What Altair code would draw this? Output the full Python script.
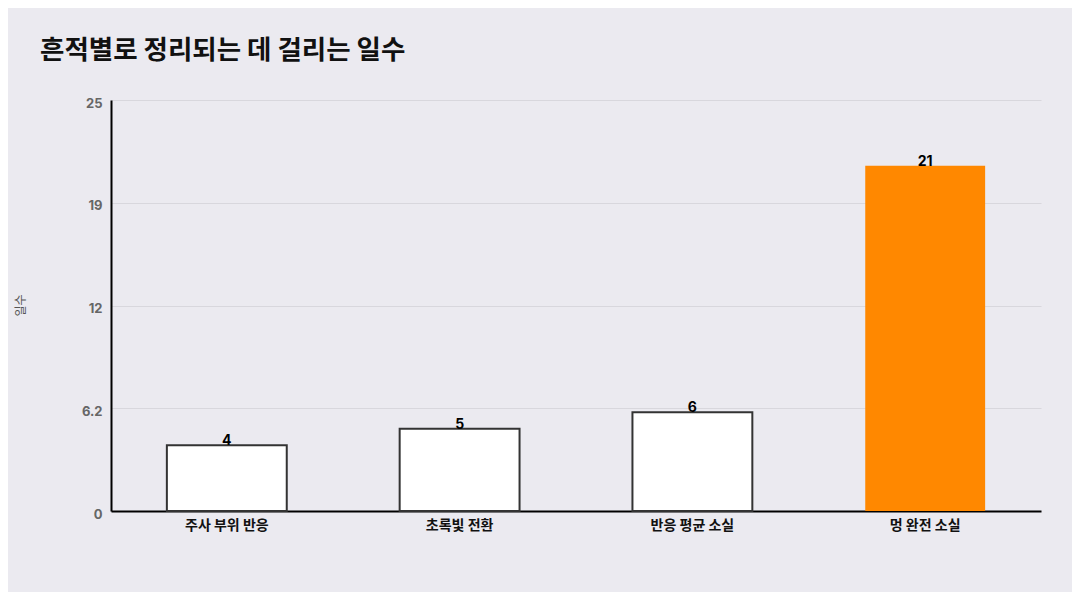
import altair as alt
import pandas as pd

categories = ["주사 부위 반응", "초록빛 전환", "반응 평균 소실", "멍 완전 소실"]
days = [4, 5, 6, 21]
highlight = "멍 완전 소실"
y_ticks = [0, 6.25, 12.5, 18.75, 25]
y_tick_labels = ["0", "6.2", "12", "19", "25"]

df = pd.DataFrame({"category": categories, "days": days})

FONT = "Noto Sans CJK KR"
NUM_FONT = "Inter"

label_expr = " : ".join(
    f"datum.value == {v} ? '{t}'" for v, t in zip(y_ticks, y_tick_labels)
) + " : datum.label"

base = alt.Chart(df).encode(
    x=alt.X(
        "category:N",
        sort=categories,
        title=None,
        scale=alt.Scale(paddingInner=0.485, paddingOuter=0.24),
        axis=alt.Axis(
            labelAngle=0,
            labelFont=FONT,
            labelFontSize=14,
            labelFontWeight="bold",
            labelColor="#111111",
            labelPadding=7,
            ticks=False,
            domainColor="#000000",
            domainWidth=2,
            grid=False,
        ),
    ),
    y=alt.Y(
        "days:Q",
        title="일수",
        scale=alt.Scale(domain=[0, 25], nice=False),
        axis=alt.Axis(
            values=y_ticks,
            labelExpr=label_expr,
            labelFont=NUM_FONT,
            labelFontSize=13,
            labelFontWeight="bold",
            labelColor="#666666",
            labelPadding=9,
            labelBaseline="middle",
            labelOffset=3,
            ticks=False,
            domainColor="#000000",
            domainWidth=2,
            gridColor="#D8D7DD",
            gridWidth=1,
            titleFont=FONT,
            titleFontSize=12,
            titleFontWeight="normal",
            titleColor="#555555",
            titleX=-91,
            titleY=205,
            titleAngle=-90,
            titleAlign="center",
            titleBaseline="middle",
        ),
    ),
)

bars = base.mark_bar(strokeWidth=2).encode(
    fill=alt.condition(
        alt.datum.category == highlight, alt.value("#FF8800"), alt.value("#FFFFFF")
    ),
    stroke=alt.condition(
        alt.datum.category == highlight, alt.value("transparent"), alt.value("#333333")
    ),
)

labels = base.mark_text(
    baseline="alphabetic",
    dy=0,
    font=NUM_FONT,
    fontSize=14,
    fontWeight="bold",
    color="#000000",
).encode(text=alt.Text("days:Q"))

chart = (
    alt.layer(bars, labels)
    .properties(
        width=930,
        height=411,
        autosize=alt.AutoSizeParams(type="none"),
        padding={"left": 103, "top": 92, "right": 31, "bottom": 81},
        background="#EBEAF0",
        title=alt.TitleParams(
            "흔적별로 정리되는 데 걸리는 일수",
            anchor="start",
            frame="group",
            font=FONT,
            fontSize=26.5,
            fontWeight="bold",
            color="#111111",
            dx=-71,
            offset=33,
        ),
    )
    .configure_view(stroke=None)
)

chart.save("out.html", embed_options={"renderer": "svg", "actions": False})
